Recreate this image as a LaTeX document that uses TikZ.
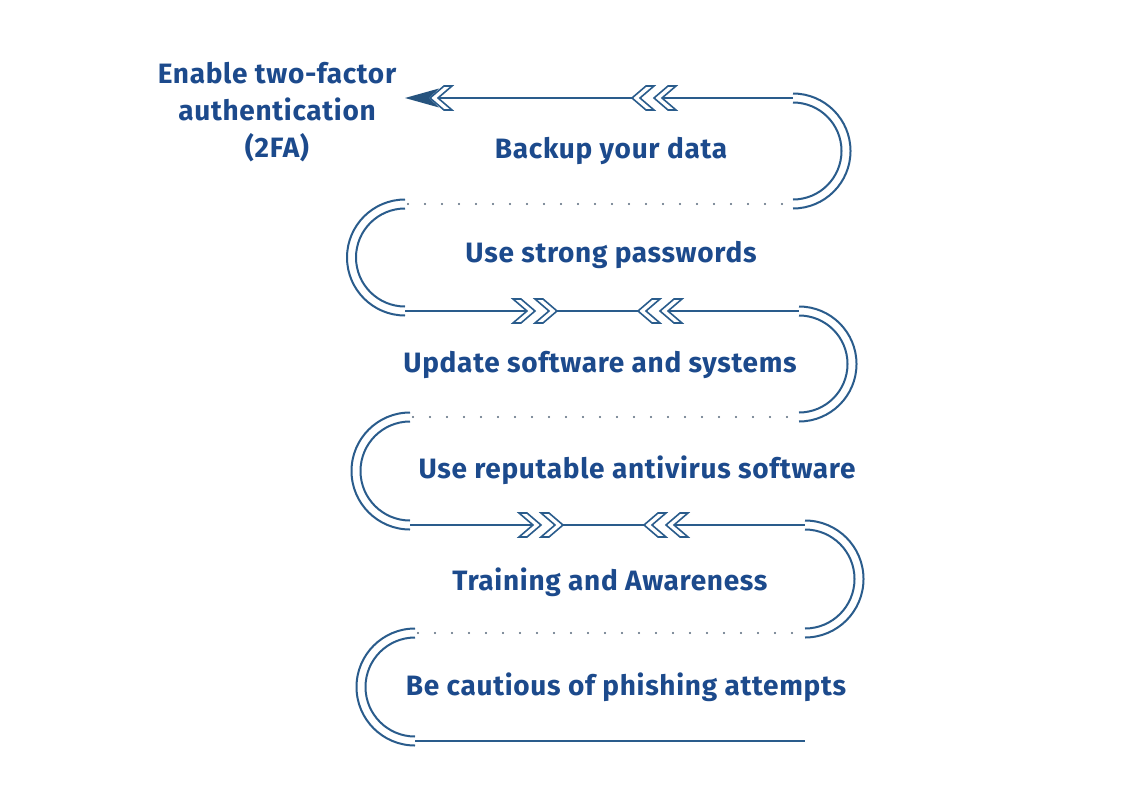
\documentclass[tikz,border=0pt]{standalone}
\usepackage{fontspec}
\setmainfont[LetterSpace=2.5]{Fira Sans}
\definecolor{txtblue}{HTML}{1C4A8C}
\definecolor{lnblue}{HTML}{2A5C8C}
\definecolor{dotgray}{HTML}{56687C}
\begin{document}
\begin{tikzpicture}[x=1pt,y=-1pt,
  ln/.style={draw=lnblue,line width=1.8pt},
  arcline/.style={draw=lnblue,line width=2pt},
  dotline/.style={draw=dotgray,line width=2.2pt,line cap=round,dash pattern=on 0pt off 17pt},
  chev/.style={draw=lnblue,line width=1.6pt,fill=white,line join=miter},
  lbl/.style={text=txtblue,font=\fontsize{28}{37}\selectfont\bfseries,inner sep=0pt},
  chevR/.pic={\path[chev] (0,-12) -- (8,-12) -- (22,0) -- (8,12) -- (0,12) -- (14,0) -- cycle;},
  chevL/.pic={\path[chev] (22,-12) -- (14,-12) -- (0,0) -- (14,12) -- (22,12) -- (8,0) -- cycle;}
]
\useasboundingbox[fill=white] (0,0) rectangle (1126,800);

% ---- row 1 (arrow row)
\draw[ln] (438,98) -- (632,98);
\draw[ln] (662,98) -- (793,98);
\fill[lnblue!90!black] (405,98) -- (439,88.5) -- (429,98) -- (439,107.5) -- cycle;
\pic at (430,98) {chevL};
\pic at (632,98) {chevL};
\pic at (654,98) {chevL};
% loop 1 right
\draw[arcline] (793,93.5) arc[start angle=-90,end angle=90,radius=57.5];
\draw[arcline] (793,102.5) arc[start angle=-90,end angle=90,radius=48.5];
% row 2 dotted
\draw[dotline] (408,204) -- (793,204);
% loop 2 left
\draw[arcline] (405,199.5) arc[start angle=-90,end angle=-270,radius=58];
\draw[arcline] (405,208.5) arc[start angle=-90,end angle=-270,radius=49];
% row 3
\draw[ln] (405,311) -- (527,311);
\draw[ln] (557,311) -- (638,311);
\draw[ln] (668,311) -- (799,311);
\pic at (513,311) {chevR};
\pic at (535,311) {chevR};
\pic at (638,311) {chevL};
\pic at (660,311) {chevL};
% loop 3 right
\draw[arcline] (799,306.5) arc[start angle=-90,end angle=90,radius=57.5];
\draw[arcline] (799,315.5) arc[start angle=-90,end angle=90,radius=48.5];
% row 4 dotted
\draw[dotline] (413,417) -- (799,417);
% loop 4 left
\draw[arcline] (410,412.5) arc[start angle=-90,end angle=-270,radius=58.5];
\draw[arcline] (410,421.5) arc[start angle=-90,end angle=-270,radius=49.5];
% row 5
\draw[ln] (410,525) -- (533,525);
\draw[ln] (563,525) -- (644,525);
\draw[ln] (674,525) -- (805,525);
\pic at (519,525) {chevR};
\pic at (541,525) {chevR};
\pic at (644,525) {chevL};
\pic at (666,525) {chevL};
% loop 5 right
\draw[arcline] (805,520.5) arc[start angle=-90,end angle=90,radius=58.5];
\draw[arcline] (805,529.5) arc[start angle=-90,end angle=90,radius=49.5];
% row 6 dotted
\draw[dotline] (418,633) -- (805,633);
% loop 6 left
\draw[arcline] (415,628.5) arc[start angle=-90,end angle=-270,radius=58.5];
\draw[arcline] (415,637.5) arc[start angle=-90,end angle=-270,radius=49.5];
% row 7
\draw[ln] (415,741) -- (805,741);

% ---- labels
\node[lbl,align=center] (t0) at (277,112) {Enable two-factor\\authentication\\(2FA)};
\node[lbl] (t1) at (611,151) {Backup your data};
\node[lbl] (t2) at (611,255) {Use strong passwords};
\node[lbl] (t3) at (600,365) {Update software and systems};
\node[lbl] (t4) at (637,470) {Use reputable antivirus software};
\node[lbl] (t5) at (610,582) {Training and Awareness};
\node[lbl] (t6) at (626,687) {Be cautious of phishing attempts};
\end{tikzpicture}
\end{document}
